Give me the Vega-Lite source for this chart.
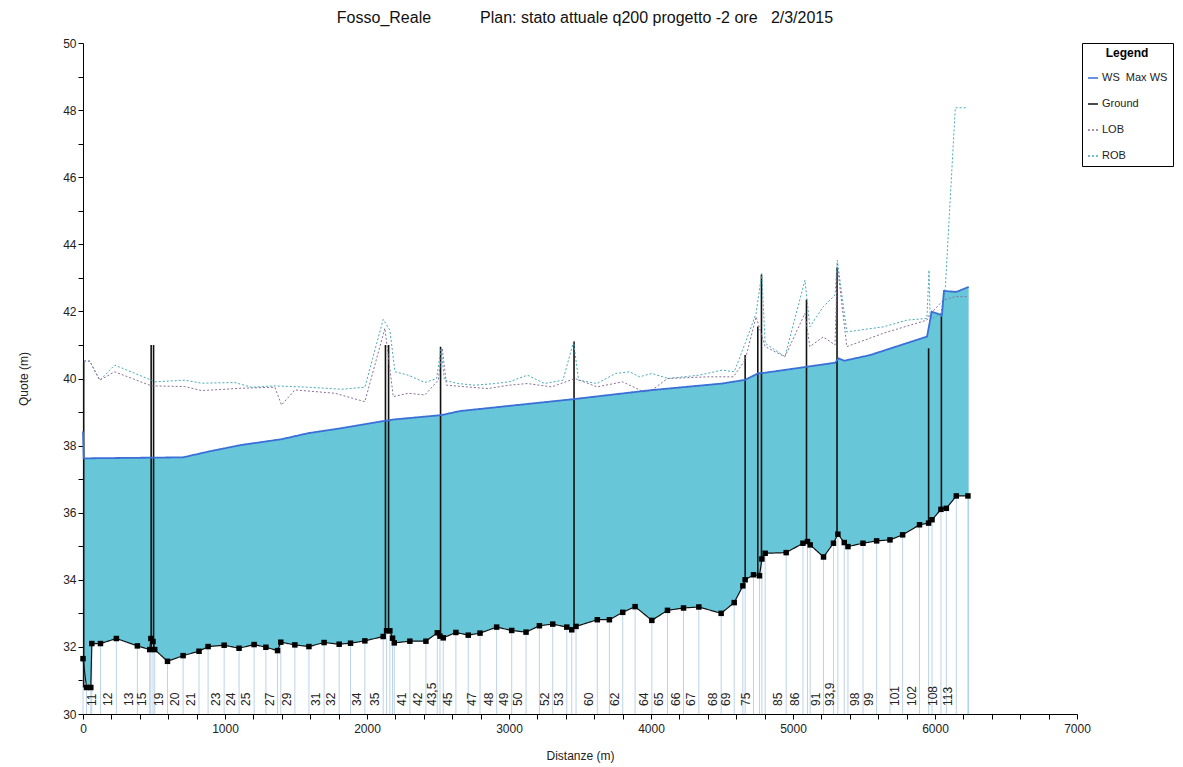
{
"$schema": "https://vega.github.io/schema/vega-lite/v6.json",
"width": 994,
"height": 671,
"autosize": {"type": "none"},
"padding": {"left": 83, "top": 43, "right": 106, "bottom": 53},
"background": "white",
"config": {
  "view": {"stroke": null},
  "font": "Liberation Sans",
  "axis": {"labelOverlap": false, "labelFlush": false, "grid": false, "tickSize": 5, "tickColor": "#000", "domainColor": "#000", "labelColor": "#222", "labelFontSize": 12, "titleFontSize": 12, "titleFontWeight": "normal", "titleColor": "#222", "zindex": 1},
  "legend": {"orient": "right", "offset": 5, "strokeColor": "#000", "padding": 5, "titleFontWeight": "bold", "titleFontSize": 12, "titleColor": "#000", "labelFontSize": 11, "labelColor": "#222", "labelOffset": 3, "symbolType": "stroke", "symbolSize": 100, "symbolStrokeWidth": 1.5, "rowPadding": 15, "titleAnchor": "middle", "titlePadding": 12}
},
"title": {"text": "Fosso_Reale\u00a0\u00a0\u00a0\u00a0\u00a0\u00a0\u00a0\u00a0\u00a0\u00a0\u00a0Plan: stato attuale q200 progetto -2 ore\u00a0\u00a0\u00a02/3/2015", "fontSize": 16, "fontWeight": "normal", "color": "#111", "offset": 11, "anchor": "middle", "dx": 5},
"datasets": {
  "ws": [
    {"d": 0, "z": 38.42, "s": "WS\u00a0\u00a0Max WS"}, {"d": 5, "z": 37.62, "s": "WS\u00a0\u00a0Max WS"}, {"d": 705, "z": 37.65, "s": "WS\u00a0\u00a0Max WS"},
    {"d": 881, "z": 37.82, "s": "WS\u00a0\u00a0Max WS"}, {"d": 1116, "z": 38.02, "s": "WS\u00a0\u00a0Max WS"}, {"d": 1398, "z": 38.19, "s": "WS\u00a0\u00a0Max WS"},
    {"d": 1586, "z": 38.37, "s": "WS\u00a0\u00a0Max WS"}, {"d": 1821, "z": 38.52, "s": "WS\u00a0\u00a0Max WS"}, {"d": 2126, "z": 38.74, "s": "WS\u00a0\u00a0Max WS"},
    {"d": 2192, "z": 38.78, "s": "WS\u00a0\u00a0Max WS"}, {"d": 2526, "z": 38.91, "s": "WS\u00a0\u00a0Max WS"}, {"d": 2655, "z": 39.03, "s": "WS\u00a0\u00a0Max WS"},
    {"d": 3465, "z": 39.39, "s": "WS\u00a0\u00a0Max WS"}, {"d": 3994, "z": 39.65, "s": "WS\u00a0\u00a0Max WS"}, {"d": 4500, "z": 39.85, "s": "WS\u00a0\u00a0Max WS"},
    {"d": 4663, "z": 39.96, "s": "WS\u00a0\u00a0Max WS"}, {"d": 4757, "z": 40.16, "s": "WS\u00a0\u00a0Max WS"}, {"d": 4800, "z": 40.17, "s": "WS\u00a0\u00a0Max WS"},
    {"d": 5098, "z": 40.35, "s": "WS\u00a0\u00a0Max WS"}, {"d": 5297, "z": 40.47, "s": "WS\u00a0\u00a0Max WS"}, {"d": 5321, "z": 40.6, "s": "WS\u00a0\u00a0Max WS"},
    {"d": 5361, "z": 40.53, "s": "WS\u00a0\u00a0Max WS"}, {"d": 5544, "z": 40.7, "s": "WS\u00a0\u00a0Max WS"}, {"d": 5944, "z": 41.25, "s": "WS\u00a0\u00a0Max WS"},
    {"d": 5977, "z": 41.99, "s": "WS\u00a0\u00a0Max WS"}, {"d": 6049, "z": 41.89, "s": "WS\u00a0\u00a0Max WS"}, {"d": 6063, "z": 42.61, "s": "WS\u00a0\u00a0Max WS"},
    {"d": 6150, "z": 42.58, "s": "WS\u00a0\u00a0Max WS"}, {"d": 6237, "z": 42.73, "s": "WS\u00a0\u00a0Max WS"}
  ],
  "ground": [
    {"d": 0, "z": 31.65, "lab": "", "s": "Ground"}, {"d": 25, "z": 30.79, "lab": "", "s": "Ground"}, {"d": 55, "z": 30.79, "lab": "", "s": "Ground"},
    {"d": 62, "z": 32.1, "lab": "", "s": "Ground"}, {"d": 123, "z": 32.1, "lab": "11", "s": "Ground"}, {"d": 235, "z": 32.25, "lab": "12", "s": "Ground"},
    {"d": 383, "z": 32.03, "lab": "13", "s": "Ground"}, {"d": 470, "z": 31.92, "lab": "15", "s": "Ground"}, {"d": 478, "z": 32.25, "lab": "", "s": "Ground"},
    {"d": 493, "z": 32.16, "lab": "", "s": "Ground"}, {"d": 505, "z": 31.92, "lab": "", "s": "Ground"}, {"d": 595, "z": 31.57, "lab": "19", "s": "Ground"},
    {"d": 705, "z": 31.74, "lab": "20", "s": "Ground"}, {"d": 817, "z": 31.87, "lab": "21", "s": "Ground"}, {"d": 881, "z": 32.01, "lab": "", "s": "Ground"},
    {"d": 994, "z": 32.05, "lab": "23", "s": "Ground"}, {"d": 1099, "z": 31.96, "lab": "24", "s": "Ground"}, {"d": 1205, "z": 32.07, "lab": "25", "s": "Ground"},
    {"d": 1288, "z": 31.99, "lab": "", "s": "Ground"}, {"d": 1370, "z": 31.89, "lab": "27", "s": "Ground"}, {"d": 1393, "z": 32.14, "lab": "", "s": "Ground"},
    {"d": 1492, "z": 32.06, "lab": "29", "s": "Ground"}, {"d": 1591, "z": 32.01, "lab": "", "s": "Ground"}, {"d": 1698, "z": 32.13, "lab": "31", "s": "Ground"},
    {"d": 1804, "z": 32.08, "lab": "32", "s": "Ground"}, {"d": 1884, "z": 32.11, "lab": "", "s": "Ground"}, {"d": 1985, "z": 32.18, "lab": "34", "s": "Ground"},
    {"d": 2114, "z": 32.31, "lab": "35", "s": "Ground"}, {"d": 2138, "z": 32.48, "lab": "", "s": "Ground"}, {"d": 2161, "z": 32.48, "lab": "", "s": "Ground"},
    {"d": 2180, "z": 32.26, "lab": "", "s": "Ground"}, {"d": 2192, "z": 32.12, "lab": "", "s": "Ground"}, {"d": 2302, "z": 32.17, "lab": "41", "s": "Ground"},
    {"d": 2415, "z": 32.17, "lab": "42", "s": "Ground"}, {"d": 2495, "z": 32.42, "lab": "", "s": "Ground"}, {"d": 2514, "z": 32.32, "lab": "43,5", "s": "Ground"},
    {"d": 2537, "z": 32.27, "lab": "", "s": "Ground"}, {"d": 2626, "z": 32.43, "lab": "45", "s": "Ground"}, {"d": 2713, "z": 32.35, "lab": "", "s": "Ground"},
    {"d": 2796, "z": 32.41, "lab": "47", "s": "Ground"}, {"d": 2913, "z": 32.59, "lab": "48", "s": "Ground"}, {"d": 3019, "z": 32.49, "lab": "49", "s": "Ground"},
    {"d": 3120, "z": 32.44, "lab": "50", "s": "Ground"}, {"d": 3214, "z": 32.63, "lab": "", "s": "Ground"}, {"d": 3308, "z": 32.68, "lab": "52", "s": "Ground"},
    {"d": 3407, "z": 32.59, "lab": "53", "s": "Ground"}, {"d": 3442, "z": 32.51, "lab": "", "s": "Ground"}, {"d": 3472, "z": 32.61, "lab": "", "s": "Ground"},
    {"d": 3622, "z": 32.81, "lab": "60", "s": "Ground"}, {"d": 3707, "z": 32.81, "lab": "", "s": "Ground"}, {"d": 3801, "z": 33.03, "lab": "62", "s": "Ground"},
    {"d": 3888, "z": 33.2, "lab": "", "s": "Ground"}, {"d": 4006, "z": 32.79, "lab": "64", "s": "Ground"}, {"d": 4116, "z": 33.09, "lab": "65", "s": "Ground"},
    {"d": 4229, "z": 33.16, "lab": "66", "s": "Ground"}, {"d": 4337, "z": 33.19, "lab": "67", "s": "Ground"}, {"d": 4494, "z": 33.0, "lab": "68", "s": "Ground"},
    {"d": 4586, "z": 33.32, "lab": "69", "s": "Ground"}, {"d": 4647, "z": 33.82, "lab": "", "s": "Ground"}, {"d": 4663, "z": 34.0, "lab": "", "s": "Ground"},
    {"d": 4722, "z": 34.15, "lab": "75", "s": "Ground"}, {"d": 4764, "z": 34.12, "lab": "", "s": "Ground"}, {"d": 4781, "z": 34.62, "lab": "", "s": "Ground"},
    {"d": 4804, "z": 34.79, "lab": "", "s": "Ground"}, {"d": 4952, "z": 34.81, "lab": "85", "s": "Ground"}, {"d": 5070, "z": 35.09, "lab": "86", "s": "Ground"},
    {"d": 5102, "z": 35.14, "lab": "", "s": "Ground"}, {"d": 5121, "z": 35.04, "lab": "", "s": "Ground"}, {"d": 5215, "z": 34.68, "lab": "91", "s": "Ground"},
    {"d": 5285, "z": 35.09, "lab": "", "s": "Ground"}, {"d": 5316, "z": 35.36, "lab": "93,9", "s": "Ground"}, {"d": 5361, "z": 35.11, "lab": "", "s": "Ground"},
    {"d": 5387, "z": 34.99, "lab": "", "s": "Ground"}, {"d": 5493, "z": 35.09, "lab": "98", "s": "Ground"}, {"d": 5589, "z": 35.16, "lab": "99", "s": "Ground"},
    {"d": 5683, "z": 35.19, "lab": "", "s": "Ground"}, {"d": 5772, "z": 35.34, "lab": "101", "s": "Ground"}, {"d": 5891, "z": 35.64, "lab": "102", "s": "Ground"},
    {"d": 5955, "z": 35.69, "lab": "", "s": "Ground"}, {"d": 5979, "z": 35.79, "lab": "", "s": "Ground"}, {"d": 6042, "z": 36.1, "lab": "108", "s": "Ground"},
    {"d": 6080, "z": 36.13, "lab": "", "s": "Ground"}, {"d": 6150, "z": 36.5, "lab": "113", "s": "Ground"}, {"d": 6232, "z": 36.5, "lab": "", "s": "Ground"}
  ],
  "banks": [
    {"d": 7, "z": 40.52, "s": "ROB"}, {"d": 47, "z": 40.52, "s": "ROB"}, {"d": 118, "z": 39.95, "s": "ROB"}, {"d": 223, "z": 40.4, "s": "ROB"},
    {"d": 482, "z": 39.95, "s": "ROB"}, {"d": 505, "z": 39.9, "s": "ROB"}, {"d": 717, "z": 39.95, "s": "ROB"}, {"d": 834, "z": 39.86, "s": "ROB"},
    {"d": 1069, "z": 39.88, "s": "ROB"}, {"d": 1187, "z": 39.74, "s": "ROB"}, {"d": 1351, "z": 39.78, "s": "ROB"}, {"d": 1586, "z": 39.74, "s": "ROB"},
    {"d": 1821, "z": 39.68, "s": "ROB"}, {"d": 1985, "z": 39.74, "s": "ROB"}, {"d": 2114, "z": 41.76, "s": "ROB"}, {"d": 2161, "z": 41.44, "s": "ROB"},
    {"d": 2197, "z": 40.2, "s": "ROB"}, {"d": 2290, "z": 40.1, "s": "ROB"}, {"d": 2408, "z": 39.88, "s": "ROB"}, {"d": 2490, "z": 40.0, "s": "ROB"},
    {"d": 2522, "z": 40.9, "s": "ROB"}, {"d": 2545, "z": 39.95, "s": "ROB"}, {"d": 2640, "z": 39.85, "s": "ROB"}, {"d": 2760, "z": 39.8, "s": "ROB"},
    {"d": 2900, "z": 39.85, "s": "ROB"}, {"d": 3000, "z": 39.9, "s": "ROB"}, {"d": 3130, "z": 40.1, "s": "ROB"}, {"d": 3250, "z": 39.85, "s": "ROB"},
    {"d": 3380, "z": 39.95, "s": "ROB"}, {"d": 3455, "z": 41.1, "s": "ROB"}, {"d": 3490, "z": 39.95, "s": "ROB"}, {"d": 3620, "z": 39.85, "s": "ROB"},
    {"d": 3750, "z": 40.15, "s": "ROB"}, {"d": 3850, "z": 40.2, "s": "ROB"}, {"d": 3920, "z": 40.05, "s": "ROB"}, {"d": 4006, "z": 40.15, "s": "ROB"},
    {"d": 4120, "z": 40.0, "s": "ROB"}, {"d": 4340, "z": 40.1, "s": "ROB"}, {"d": 4500, "z": 40.25, "s": "ROB"}, {"d": 4586, "z": 40.2, "s": "ROB"},
    {"d": 4663, "z": 41.05, "s": "ROB"}, {"d": 4740, "z": 41.94, "s": "ROB"}, {"d": 4780, "z": 43.13, "s": "ROB"}, {"d": 4804, "z": 41.05, "s": "ROB"},
    {"d": 4943, "z": 40.65, "s": "ROB"}, {"d": 5084, "z": 42.93, "s": "ROB"}, {"d": 5119, "z": 41.54, "s": "ROB"}, {"d": 5213, "z": 42.14, "s": "ROB"},
    {"d": 5296, "z": 42.49, "s": "ROB"}, {"d": 5312, "z": 43.53, "s": "ROB"}, {"d": 5379, "z": 41.39, "s": "ROB"}, {"d": 5637, "z": 41.54, "s": "ROB"},
    {"d": 5802, "z": 41.74, "s": "ROB"}, {"d": 5943, "z": 41.79, "s": "ROB"}, {"d": 5958, "z": 43.23, "s": "ROB"}, {"d": 5966, "z": 41.74, "s": "ROB"},
    {"d": 6042, "z": 41.94, "s": "ROB"}, {"d": 6073, "z": 42.73, "s": "ROB"}, {"d": 6143, "z": 48.07, "s": "ROB"}, {"d": 6225, "z": 48.07, "s": "ROB"},
    {"d": 7, "z": 40.52, "s": "LOB"}, {"d": 47, "z": 40.52, "s": "LOB"}, {"d": 118, "z": 39.95, "s": "LOB"}, {"d": 223, "z": 40.2, "s": "LOB"},
    {"d": 482, "z": 39.78, "s": "LOB"}, {"d": 717, "z": 39.76, "s": "LOB"}, {"d": 834, "z": 39.64, "s": "LOB"}, {"d": 1116, "z": 39.71, "s": "LOB"},
    {"d": 1351, "z": 39.74, "s": "LOB"}, {"d": 1398, "z": 39.21, "s": "LOB"}, {"d": 1492, "z": 39.66, "s": "LOB"}, {"d": 1774, "z": 39.56, "s": "LOB"},
    {"d": 1985, "z": 39.31, "s": "LOB"}, {"d": 2126, "z": 41.5, "s": "LOB"}, {"d": 2185, "z": 39.46, "s": "LOB"}, {"d": 2290, "z": 39.56, "s": "LOB"},
    {"d": 2408, "z": 39.51, "s": "LOB"}, {"d": 2502, "z": 39.95, "s": "LOB"}, {"d": 2530, "z": 40.9, "s": "LOB"}, {"d": 2560, "z": 39.8, "s": "LOB"},
    {"d": 2700, "z": 39.75, "s": "LOB"}, {"d": 2850, "z": 39.7, "s": "LOB"}, {"d": 3000, "z": 39.8, "s": "LOB"}, {"d": 3130, "z": 39.85, "s": "LOB"},
    {"d": 3300, "z": 39.75, "s": "LOB"}, {"d": 3465, "z": 40.0, "s": "LOB"}, {"d": 3620, "z": 39.75, "s": "LOB"}, {"d": 3800, "z": 39.9, "s": "LOB"},
    {"d": 3950, "z": 39.6, "s": "LOB"}, {"d": 4006, "z": 39.65, "s": "LOB"}, {"d": 4116, "z": 40.0, "s": "LOB"}, {"d": 4400, "z": 40.05, "s": "LOB"},
    {"d": 4580, "z": 40.05, "s": "LOB"}, {"d": 4663, "z": 40.55, "s": "LOB"}, {"d": 4740, "z": 41.84, "s": "LOB"}, {"d": 4804, "z": 40.95, "s": "LOB"},
    {"d": 4943, "z": 40.65, "s": "LOB"}, {"d": 5084, "z": 41.94, "s": "LOB"}, {"d": 5119, "z": 40.95, "s": "LOB"}, {"d": 5213, "z": 41.24, "s": "LOB"},
    {"d": 5296, "z": 41.0, "s": "LOB"}, {"d": 5312, "z": 43.4, "s": "LOB"}, {"d": 5379, "z": 40.95, "s": "LOB"}, {"d": 5637, "z": 41.35, "s": "LOB"},
    {"d": 5943, "z": 41.74, "s": "LOB"}, {"d": 5962, "z": 41.9, "s": "LOB"}, {"d": 6060, "z": 42.34, "s": "LOB"}, {"d": 6143, "z": 42.44, "s": "LOB"},
    {"d": 6237, "z": 42.44, "s": "LOB"}
  ],
  "structures": [
    {"d": 5, "z": 40.5, "z2": 30.79}, {"d": 480, "z": 41.0, "z2": 32.0}, {"d": 497, "z": 41.0, "z2": 32.0},
    {"d": 2130, "z": 41.0, "z2": 32.45}, {"d": 2152, "z": 41.0, "z2": 32.45}, {"d": 2518, "z": 40.95, "z2": 32.3},
    {"d": 3458, "z": 41.1, "z2": 32.55}, {"d": 4663, "z": 40.7, "z2": 34.0}, {"d": 4752, "z": 41.55, "z2": 34.12},
    {"d": 4778, "z": 43.1, "z2": 34.6}, {"d": 5095, "z": 42.35, "z2": 35.1}, {"d": 5310, "z": 43.3, "z2": 35.36},
    {"d": 5955, "z": 40.9, "z2": 35.7}, {"d": 6045, "z": 41.85, "z2": 36.1}
  ]
},
"encoding": {
  "x": {"field": "d", "type": "quantitative", "scale": {"domain": [0, 7000], "nice": false, "zero": false},
    "axis": {"title": "Distanze (m)", "values": [0,200,400,600,800,1000,1200,1400,1600,1800,2000,2200,2400,2600,2800,3000,3200,3400,3600,3800,4000,4200,4400,4600,4800,5000,5200,5400,5600,5800,6000,6200,6400,6600,6800,7000],
      "labelExpr": "datum.value % 1000 === 0 ? format(datum.value, 'd') : ''", "labelOverlap": false, "labelFlush": false, "labelPadding": 4, "titlePadding": 16}},
  "y": {"field": "z", "type": "quantitative", "scale": {"domain": [30, 50], "nice": false, "zero": false},
    "axis": {"title": "Quote (m)", "values": [30,31,32,33,34,35,36,37,38,39,40,41,42,43,44,45,46,47,48,49,50],
      "labelExpr": "datum.value % 2 === 0 ? datum.label : ''", "labelOverlap": false, "labelFlush": false, "labelPadding": 2, "titlePadding": 32}}
},
"layer": [
  {
    "data": {"name": "ws"},
    "mark": {"type": "area", "color": "#67c7d8", "opacity": 1},
    "encoding": {"y2": {"datum": 30}}
  },
  {
    "data": {"name": "ground"},
    "mark": {"type": "area", "color": "white", "opacity": 1},
    "encoding": {"y2": {"datum": 30}}
  },
  {
    "data": {"name": "ground"},
    "mark": {"type": "rule", "color": "#bcd3e8", "strokeWidth": 1},
    "encoding": {"y2": {"datum": 30}}
  },
  {
    "data": {"name": "ground"},
    "mark": {"type": "text", "angle": 270, "align": "left", "baseline": "bottom", "dx": 8, "dy": -1, "fontSize": 12, "color": "#222"},
    "encoding": {"y": {"datum": 30, "type": "quantitative"}, "text": {"field": "lab", "type": "nominal"}}
  },
  {
    "data": {"name": "structures"},
    "mark": {"type": "rule", "color": "#111", "strokeWidth": 1.6},
    "encoding": {"y2": {"field": "z2"}}
  },
  {
    "data": {"name": "banks"},
    "mark": {"type": "line", "strokeWidth": 1},
    "encoding": {
      "color": {"field": "s", "type": "nominal", "scale": {"domain": ["WS\u00a0\u00a0Max WS", "Ground", "LOB", "ROB"], "range": ["#3a6fd8", "#111111", "#8a6e98", "#45aab8"]}, "legend": {"title": "Legend"}},
      "strokeDash": {"field": "s", "type": "nominal", "scale": {"domain": ["WS\u00a0\u00a0Max WS", "Ground", "LOB", "ROB"], "range": [[1, 0], [1, 0], [2, 2], [2, 2]]}, "legend": {"title": "Legend"}}}
  },
  {
    "data": {"name": "ws"},
    "mark": {"type": "line", "strokeWidth": 1.8},
    "encoding": {"color": {"field": "s", "type": "nominal"}, "strokeDash": {"field": "s", "type": "nominal"}}
  },
  {
    "data": {"name": "ground"},
    "mark": {"type": "line", "strokeWidth": 1.2},
    "encoding": {"color": {"field": "s", "type": "nominal"}, "strokeDash": {"field": "s", "type": "nominal"}}
  },
  {
    "data": {"name": "ground"},
    "mark": {"type": "square", "color": "#000", "filled": true, "size": 30, "opacity": 1}
  }
]
}
